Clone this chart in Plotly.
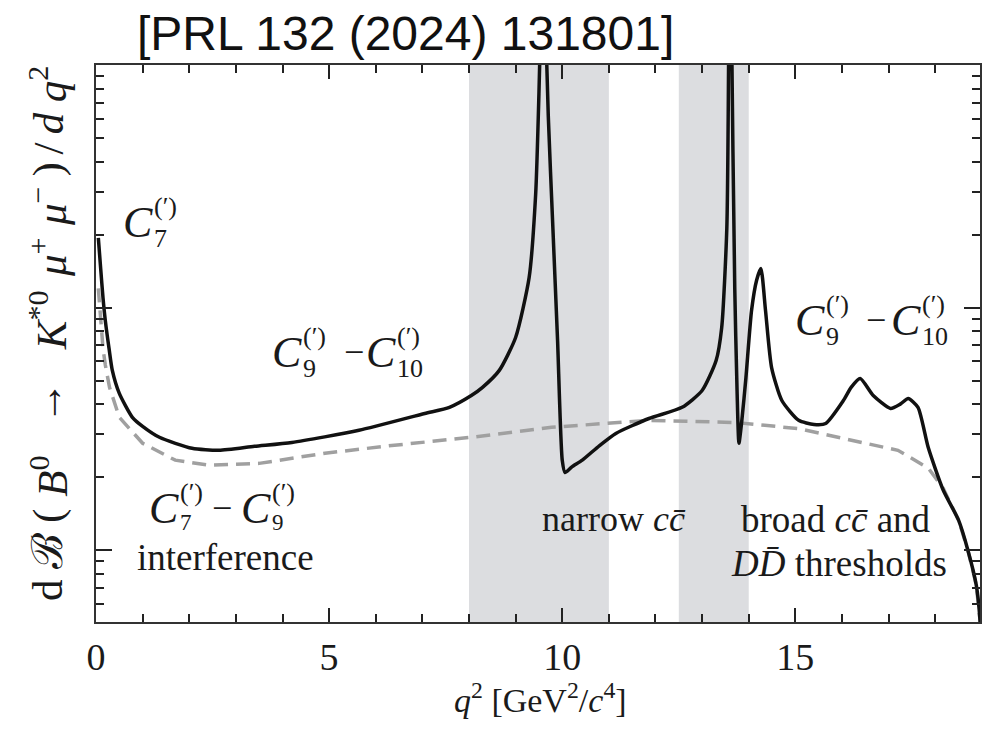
import plotly.graph_objects as go

# ---------------- data ----------------
q2_full = [0.05, 0.1, 0.15, 0.2, 0.28, 0.35, 0.5, 0.78, 1.0, 1.36, 2.06, 2.64, 3.4, 4.2, 5.64, 7.05,
           7.58, 8.05, 8.29, 8.65, 9.0, 9.29, 9.43, 9.5, 9.55, 9.59, 9.63, 9.7, 9.8, 9.9, 10.0, 10.06,
           10.2, 10.43, 10.8, 11.15, 11.86, 12.57, 13.0, 13.3, 13.42, 13.53, 13.57, 13.59, 13.63,
           13.7, 13.75, 13.79, 13.85, 13.94, 14.06, 14.17, 14.26, 14.36, 14.49, 14.71, 15.07, 15.4,
           15.65, 16.03, 16.2, 16.39, 16.67, 17.04, 17.25, 17.42, 17.63, 17.85, 18.17, 18.5, 18.7,
           18.88, 18.96, 19.0]
dB_full = [19.4, 14.5, 11.0, 8.84, 6.78, 5.51, 4.43, 3.53, 3.24, 2.92, 2.63, 2.58, 2.68, 2.78, 3.12, 3.66,
           3.88, 4.34, 4.69, 5.51, 7.53, 13.3, 29.4, 76.0, 200.0, 2000.0, 200.0, 62.0, 21.1, 7.31, 2.35, 2.09,
           2.2, 2.35, 2.70, 3.03, 3.49, 3.88, 4.55, 6.05, 8.27, 21.3, 120.0, 2000.0, 150.0,
           12.0, 4.5, 2.76, 3.4, 5.15, 9.72, 13.0, 14.5, 9.72, 5.66, 4.14, 3.43, 3.3,
           3.33, 4.14, 4.7, 5.10, 4.34, 3.84, 4.0, 4.22, 3.88, 2.65, 1.77, 1.33, 1.0,
           0.718, 0.515, 0.3]

q2_c79 = [0.05, 0.1, 0.15, 0.2, 0.29, 0.5, 1.0, 1.7, 2.43, 3.5, 4.91, 6.34, 8.05, 9.77, 11.86, 13.72,
          15.07, 16.5, 17.2, 17.85, 18.17, 18.5, 18.7, 18.88, 18.96, 19.0]
dB_c79 = [12.0, 8.5, 6.8, 5.8, 4.69, 3.53, 2.76, 2.35, 2.24, 2.28, 2.51, 2.70, 2.92, 3.21, 3.43, 3.36,
          3.17, 2.76, 2.58, 2.18, 1.80, 1.33, 1.0, 0.718, 0.515, 0.3]

bands = [(8.0, 11.0), (12.5, 14.0)]
x_ticks = [0, 5, 10, 15]
x_tick_text = ["0", "5", "10", "15"]
y_major = [1, 10, 100]
y_minor = [0.5, 0.6, 0.7, 0.8, 0.9, 2, 3, 4, 5, 6, 7, 8, 9, 20, 30, 40, 50, 60, 70, 80, 90]

# ---------------- figure ----------------
W, H = 984, 730
L, R, T, B = 96, 2, 65, 108
SERIF = "Liberation Serif"
INK = "#1a1a1a"

fig = go.Figure()
fig.add_trace(go.Scatter(x=q2_c79, y=dB_c79, mode="lines",
                         line=dict(color="#a0a0a0", width=3.5, dash="14px,8px"),
                         showlegend=False, cliponaxis=True))
fig.add_trace(go.Scatter(x=q2_full, y=dB_full, mode="lines",
                         line=dict(color="#111111", width=3.5, shape="spline", smoothing=0.6),
                         showlegend=False, cliponaxis=True))

for a, b in bands:
    fig.add_shape(type="rect", xref="x", yref="paper", x0=a, x1=b, y0=0, y1=1,
                  fillcolor="#dcdde0", line=dict(width=0), layer="below")

def px2p(px, py):
    return (px - L) / (W - L - R), (H - B - py) / (H - T - B)

def text(px, py, s, size=37, xanchor="center", angle=0, family=SERIF):
    x, y = px2p(px, py)
    fig.add_annotation(x=x, y=y, xref="paper", yref="paper", text=s, showarrow=False,
                       xanchor=xanchor, yanchor="middle", textangle=angle,
                       font=dict(family=family, size=size, color=INK))

def wilson(px, py, sub, subsize=26, suboff=16):
    text(px, py, "<i>C</i>", size=44)
    text(px + 14, py - 16, "(′)", size=26, xanchor="left")
    text(px + 14, py + suboff, sub, size=subsize, xanchor="left")

# C7 top-left
wilson(138, 222, "7")
# C9 - C10 middle
wilson(287, 352, "9")
text(355, 352, "−", size=36)
wilson(382, 352, "10")
# C9 - C10 right
wilson(812, 320, "9")
text(878, 320, "−", size=36)
wilson(908, 320, "10")
# C7 - C9 interference
wilson(164, 508, "7", subsize=23, suboff=14)
text(222, 508, "−", size=36)
wilson(256, 508, "9", subsize=23, suboff=14)
text(226, 557, "interference", size=37)
text(615, 519, "narrow <i>c</i><i>c̄</i>", size=36)
text(838, 519, "broad <i>c</i><i>c̄</i> and", size=37)
text(841, 563, "<i>D</i><i>D̄</i> thresholds", size=37)

# title
tx, ty = px2p(135, 33)
fig.add_annotation(x=tx, y=ty, xref="paper", yref="paper",
                   text="[PRL 132 (2024) 131801]", showarrow=False, xanchor="left",
                   yanchor="middle", font=dict(family="Liberation Sans", size=48, color="#111111"))

# y-axis title: rotated glyph groups spread along the axis like the (stretched) reference
yt_groups = ["d", "ℬ", "(", "<i>B</i><sup>0</sup>", "→", "<i>K</i><sup>*0</sup>",
             "<i>μ</i><sup>+</sup>", "<i>μ</i><sup>−</sup>", ")", "/", "<i>d</i>",
             "<i>q</i><sup>2</sup>"]
yt_em = [0.5, 0.8, 0.36, 0.95, 1.5, 1.25, 0.85, 0.85, 0.36, 0.34, 0.5, 0.8]
y_bot, y_top = 605, 60
scale = (y_bot - y_top) / sum(yt_em)
pos = y_bot
for g, w in zip(yt_groups, yt_em):
    text(48, pos - w * scale / 2, g, size=43, angle=-90)
    pos -= w * scale

# x-axis title
text(542, 698, "<i>q</i><sup>2</sup> [GeV<sup>2</sup>/<i>c</i><sup>4</sup>]", size=34)

axis_common = dict(showline=True, linecolor="#333333", linewidth=2, mirror="allticks",
                   ticks="inside", tickcolor="#222222", showgrid=False, zeroline=False)

serif_ticks = ["<span style=\"font-family:'Liberation Serif',serif\">%s</span>" % t for t in x_tick_text]
fig.update_xaxes(range=[0, 18.96], tickvals=x_ticks, ticktext=serif_ticks, ticklen=14, tickwidth=2,
                 tickfont=dict(family="Liberation Serif", size=38, color=INK),
                 minor=dict(dtick=1, ticks="inside", ticklen=8, tickwidth=2, tickcolor="#222222",
                            showgrid=False),
                 **axis_common)
fig.update_yaxes(type="log", range=[-0.296, 2.0], tickvals=y_major, showticklabels=False,
                 ticklen=16, tickwidth=2,
                 minor=dict(tickvals=y_minor, ticks="inside", ticklen=8, tickwidth=2,
                            tickcolor="#222222", showgrid=False),
                 **axis_common)

fig.update_layout(width=W, height=H, margin=dict(l=L, r=R, t=T, b=B),
                  font=dict(family="Liberation Serif", color=INK),
                  plot_bgcolor="white", paper_bgcolor="white", showlegend=False)

fig.write_html("out.html")
